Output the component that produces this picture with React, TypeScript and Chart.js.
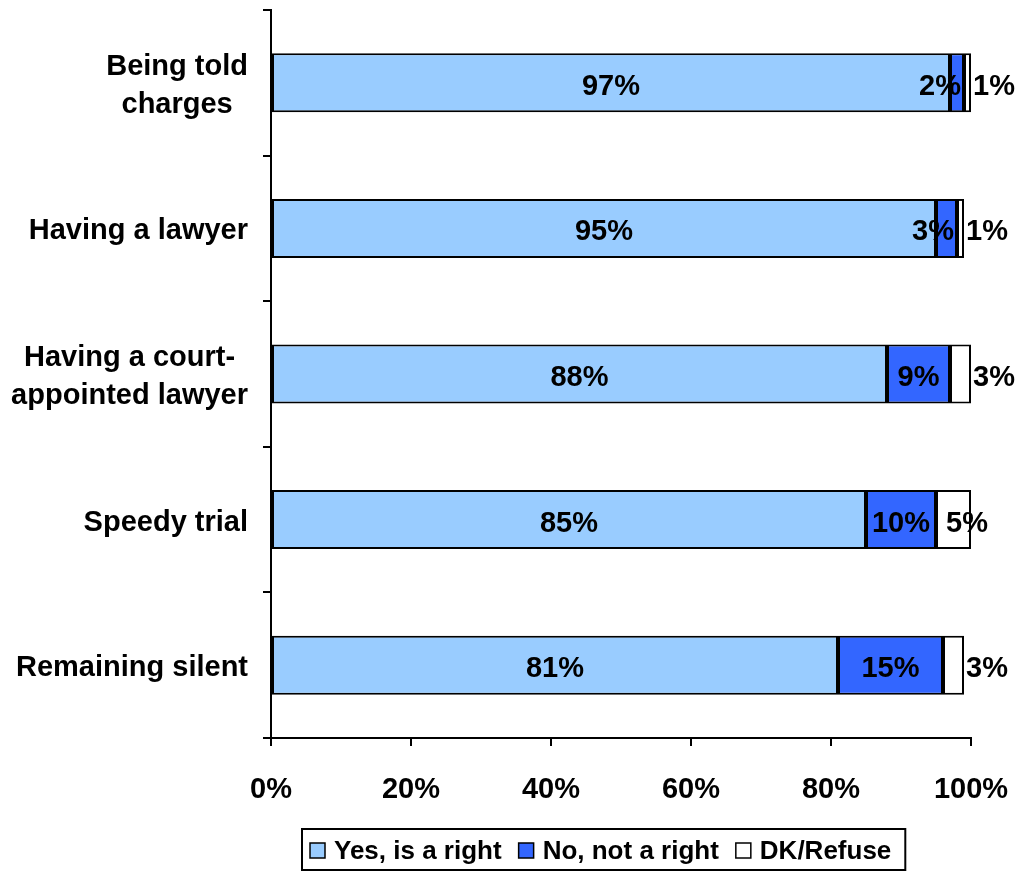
import React, { useEffect, useRef } from "react";
import { Chart, registerables } from "chart.js";

Chart.register(...registerables);

const categories: string[][] = [
  ["Being told", "charges"],
  ["Having a lawyer"],
  ["Having a court-", "appointed lawyer"],
  ["Speedy trial"],
  ["Remaining silent"],
];
const yesValues = [97, 95, 88, 85, 81];
const noValues = [2, 3, 9, 10, 15];
const dkValues = [1, 1, 3, 5, 3];
const seriesNames = ["Yes, is a right", "No, not a right", "DK/Refuse"];
const seriesColors = ["#99CCFF", "#3366FF", "#FFFFFF"];
const xTickValues = [0, 20, 40, 60, 80, 100];

const FAMILY = "Arial, 'Liberation Sans', sans-serif";
const BIG_FONT = `bold 29px ${FAMILY}`;
const LEGEND_FONT = `bold 26px ${FAMILY}`;

const W = 1018;
const H = 875;

if (typeof document !== "undefined") {
  document.body.style.margin = "0";
}

const valueLabelsPlugin = {
  id: "valueLabels",
  afterDatasetsDraw(chart: any) {
    const ctx = chart.ctx;
    ctx.save();
    ctx.font = BIG_FONT;
    ctx.fillStyle = "#000";
    ctx.textBaseline = "middle";
    chart.data.datasets.forEach((ds: any, di: number) => {
      const meta = chart.getDatasetMeta(di);
      meta.data.forEach((el: any, i: number) => {
        const v = ds.data[i];
        const p = el.getProps(["x", "base", "y"], true);
        const start = Math.min(p.x, p.base);
        const end = Math.max(p.x, p.base);
        const w = end - start;
        const text = v + "%";
        const tw = ctx.measureText(text).width;
        const ty = p.y + 4;
        if (di === 2) {
          if (w > 30) {
            ctx.textAlign = "center";
            ctx.fillText(text, end - 4, ty);
          } else {
            ctx.textAlign = "left";
            ctx.fillText(text, end + 2, ty);
          }
        } else if (w >= tw + 6) {
          ctx.textAlign = "center";
          ctx.fillText(text, (start + end) / 2, ty);
        } else {
          ctx.textAlign = "right";
          ctx.fillText(text, end - 3, ty);
        }
      });
    });
    ctx.restore();
  },
};

const categoryLabelsPlugin = {
  id: "categoryLabels",
  afterDraw(chart: any) {
    const ctx = chart.ctx;
    const yScale = chart.scales.y;
    const area = chart.chartArea;
    ctx.save();
    ctx.font = BIG_FONT;
    ctx.fillStyle = "#000";
    ctx.textBaseline = "middle";
    ctx.textAlign = "center";
    const lineH = 38;
    (chart.data.labels as string[][]).forEach((lines, i) => {
      const cy = yScale.getPixelForValue(i);
      const blockW = Math.max(...lines.map((l) => ctx.measureText(l).width));
      const right = area.left - 23;
      const cx = right - blockW / 2;
      lines.forEach((line, li) => {
        const ly = cy + 3 + (li - (lines.length - 1) / 2) * lineH;
        ctx.fillText(line, cx, ly);
      });
    });
    ctx.restore();
  },
};

const legendBoxPlugin = {
  id: "legendBox",
  afterDraw(chart: any) {
    const ctx = chart.ctx;
    const area = chart.chartArea;
    ctx.save();
    ctx.font = LEGEND_FONT;
    const sq = 15;
    const gapAfterSq = 9;
    const gapItems = 17;
    const items = chart.data.datasets.map((ds: any) => ({
      label: ds.label as string,
      color: ds.backgroundColor as string,
      w: ctx.measureText(ds.label).width,
    }));
    let content = 0;
    items.forEach((it: any, i: number) => {
      content += sq + gapAfterSq + it.w + (i < items.length - 1 ? gapItems : 0);
    });
    const padL = 8;
    const padR = 14;
    const frameW = content + padL + padR;
    const frameH = 41;
    const frameX = area.left + 31;
    const frameY = H - 46;
    ctx.lineWidth = 2;
    ctx.strokeStyle = "#000";
    ctx.strokeRect(frameX, frameY, frameW, frameH);
    const cy = frameY + frameH / 2 + 1;
    let x = frameX + padL;
    ctx.textBaseline = "middle";
    ctx.textAlign = "left";
    items.forEach((it: any) => {
      ctx.fillStyle = it.color;
      ctx.fillRect(x, cy - sq / 2, sq, sq);
      ctx.lineWidth = 1.5;
      ctx.strokeStyle = "#000";
      ctx.strokeRect(x, cy - sq / 2, sq, sq);
      x += sq + gapAfterSq;
      ctx.fillStyle = "#000";
      ctx.fillText(it.label, x, cy + 1);
      x += it.w + gapItems;
    });
    ctx.restore();
  },
};

export default function App() {
  const ref = useRef<HTMLCanvasElement | null>(null);

  useEffect(() => {
    document.body.style.margin = "0";
    if (!ref.current) return;
    const values = [yesValues, noValues, dkValues];
    const chart = new Chart(ref.current, {
      type: "bar",
      data: {
        labels: categories as any,
        datasets: values.map((vals, i) => ({
          label: seriesNames[i],
          data: vals,
          backgroundColor: seriesColors[i],
          borderColor: "#000",
          borderWidth: 2,
          borderSkipped: false,
          barPercentage: 0.405,
          categoryPercentage: 1,
        })),
      },
      options: {
        indexAxis: "y",
        responsive: false,
        animation: false,
        devicePixelRatio: 1,
        layout: { padding: { top: 10, right: 47, left: 0, bottom: 67 } },
        plugins: {
          legend: { display: false },
          tooltip: { enabled: false },
        },
        scales: {
          x: {
            stacked: true,
            min: 0,
            max: 100,
            afterBuildTicks: (scale: any) => {
              scale.ticks = xTickValues.map((v) => ({ value: v }));
            },
            afterFit: (scale: any) => {
              scale.height = 70;
              scale.paddingLeft = 0;
              scale.paddingRight = 0;
            },
            ticks: {
              callback: (v: any) => v + "%",
              color: "#000",
              font: { family: FAMILY, size: 29, weight: "bold" },
              padding: 27,
              maxRotation: 0,
              autoSkip: false,
            },
            grid: {
              drawOnChartArea: false,
              drawTicks: true,
              tickLength: 8,
              color: "#000",
              lineWidth: 2,
            },
            border: { color: "#000", width: 2 },
          },
          y: {
            stacked: true,
            afterFit: (scale: any) => {
              scale.width = 271;
              scale.paddingTop = 0;
              scale.paddingBottom = 0;
            },
            ticks: { display: false },
            grid: {
              drawOnChartArea: false,
              drawTicks: true,
              tickLength: 8,
              color: "#000",
              lineWidth: 2,
              offset: true,
            },
            border: { color: "#000", width: 2 },
          },
        },
      } as any,
      plugins: [valueLabelsPlugin, categoryLabelsPlugin, legendBoxPlugin],
    });
    return () => chart.destroy();
  }, []);

  return (
    <div style={{ width: W, height: H }}>
      <canvas ref={ref} width={W} height={H} style={{ display: "block" }} />
    </div>
  );
}
